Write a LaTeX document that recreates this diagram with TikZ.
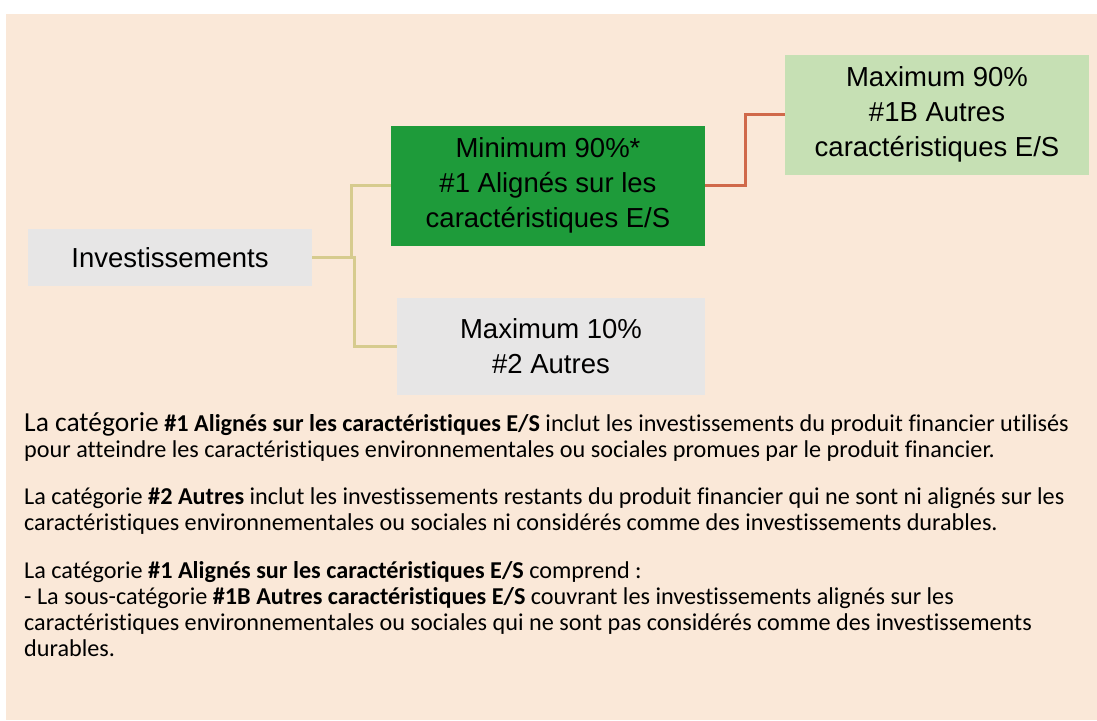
\documentclass[tikz,border=0pt]{standalone}
\usepackage{fontspec}
\setmainfont{Carlito}[Ligatures=NoCommon]
\newfontfamily\boxfont{Liberation Sans}
\usepackage{xcolor}
\usetikzlibrary{positioning}

\definecolor{peach}{HTML}{FAE8D8}
\definecolor{boxgrey}{HTML}{E7E6E6}
\definecolor{darkgreen}{HTML}{1E9B3A}
\definecolor{lightgreen}{HTML}{C6E0B4}
\definecolor{sand}{HTML}{D6CB8E}
\definecolor{brick}{HTML}{D0694A}

\begin{document}
\begin{tikzpicture}[x=1pt,y=-1pt,on grid]
				\useasboundingbox (0,0) rectangle (1097,720);
				\fill[white] (0,0) rectangle (1097,720);
				\fill[peach] (6,14) rectangle (1097,720);

				\tikzset{cat/.style={inner sep=0pt,align=center,font=\boxfont\fontsize{27.5}{35}\selectfont}}
				\node[cat,fill=boxgrey,minimum width=284pt,minimum height=57pt] (Inv) at (170,257.5) {Investissements};
				\node[cat,fill=darkgreen,minimum width=314pt,minimum height=120pt] (Min90) [above right=72pt and 378pt of Inv] {Minimum 90\%*\\\#1 Alignés sur les\\caractéristiques E/S};
				\node[cat,fill=boxgrey,minimum width=308pt,minimum height=97pt] (Max10) [below right=89pt and 381pt of Inv] {Maximum 10\%\\\#2 Autres};
				\node[cat,fill=lightgreen,minimum width=304pt,minimum height=120pt] (Max1B) [above right=71pt and 389pt of Min90] {Maximum 90\%\\\#1B Autres\\caractéristiques E/S};

				\tikzset{branch/.style={draw=sand,line width=3pt}}
				\tikzset{subbranch/.style={draw=brick,line width=3pt}}
				\path[branch] (Inv.east) -- ++(39,0) |- (Min90.west);
				\path[branch] (Inv.east) -- ++(42,0) |- (Max10.west);
				\path[subbranch] (Min90.east) -- ++(40,0) |- (Max1B.west);

				% base anchor sits on the last line
				\tikzset{txt/.style={anchor=base west,inner sep=0pt,align=left,font=\fontsize{24.2}{25.8}\selectfont}}
				\node[txt] (P1) at (24,457.5) {{\fontsize{27.5}{25.8}\selectfont La catégorie} \textbf{\#1 Alignés sur les caractéristiques E/S} inclut les investissements du produit financier utilisés\\pour atteindre les caractéristiques environnementales ou sociales promues par le produit financier.};
				\node[txt] (P2) at (24,530.5) {La catégorie \textbf{\#2 Autres} inclut les investissements restants du produit financier qui ne sont ni alignés sur les\\caractéristiques environnementales ou sociales ni considérés comme des investissements durables.};
				\node[txt] (P3) at (24,656) {La catégorie \textbf{\#1 Alignés sur les caractéristiques E/S} comprend :\\- La sous-catégorie \textbf{\#1B Autres caractéristiques E/S} couvrant les investissements alignés sur les\\caractéristiques environnementales ou sociales qui ne sont pas considérés comme des investissements\\durables.};
\end{tikzpicture}
\end{document}
